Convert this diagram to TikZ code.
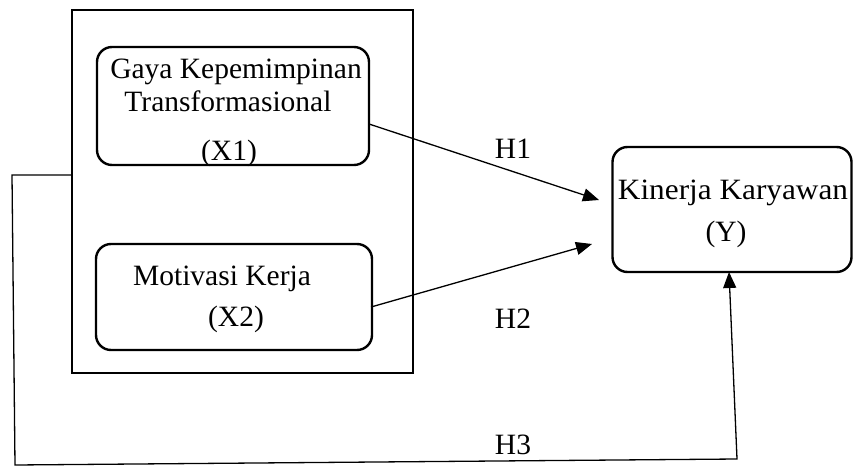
\documentclass[tikz,border=0pt]{standalone}
\usepackage{fontspec}
\setmainfont{Liberation Serif}
\usetikzlibrary{arrows.meta}
\begin{document}
\begin{tikzpicture}[x=1pt,y=-1pt,
  box/.style={draw,line width=2.4pt,rounded corners=15pt},
  frame/.style={draw,line width=2.4pt},
  conn/.style={line width=1.3pt},
  arr/.style={conn,-{Triangle[length=16pt,width=13pt]}},
  txt/.style={anchor=base,inner sep=0pt,font=\fontsize{29.5}{34}\selectfont}]
\useasboundingbox (0,0) rectangle (853,468);
\node[frame,minimum width=341pt,minimum height=363pt,inner sep=0pt] (outer) at (242.5,191.5) {};
\node[box,minimum width=272pt,minimum height=118pt,inner sep=0pt] (x1) at (233,106) {};
\node[box,minimum width=276pt,minimum height=106pt,inner sep=0pt] (x2) at (234,297) {};
\node[box,minimum width=239pt,minimum height=125pt,inner sep=0pt] (y) at (732,209.5) {};
\node[txt] (t1a) at (236,79) {Gaya Kepemimpinan};
\node[txt] (t1b) at (228,112) {Transformasional};
\node[txt] (t1c) at (229,160) {(X1)};
\node[txt] (t2a) at (222,285) {Motivasi Kerja};
\node[txt] (t2b) at (236,326) {(X2)};
\node[txt] (tya) at (733,199) {\scalebox{1.06}[1]{Kinerja Karyawan}};
\node[txt] (tyb) at (726,241) {(Y)};
\node[txt] (h1) at (513,158) {H1};
\node[txt] (h2) at (513,328) {H2};
\node[txt] (h3) at (513,454) {H3};
\coordinate (a1s) at (369,124);
\coordinate (a1e) at (599,200);
\coordinate (a2s) at (371,307);
\coordinate (a2e) at (592,244);
\coordinate (fs) at (72,175);
\coordinate (f1) at (12,175);
\coordinate (f2) at (15,465);
\coordinate (f3) at (737,459);
\coordinate (fe) at (729,272);
\draw[arr] (a1s) -- (a1e);
\draw[arr] (a2s) -- (a2e);
\draw[arr] (fs) -- (f1) -- (f2) -- (f3) -- (fe);
\end{tikzpicture}
\end{document}
